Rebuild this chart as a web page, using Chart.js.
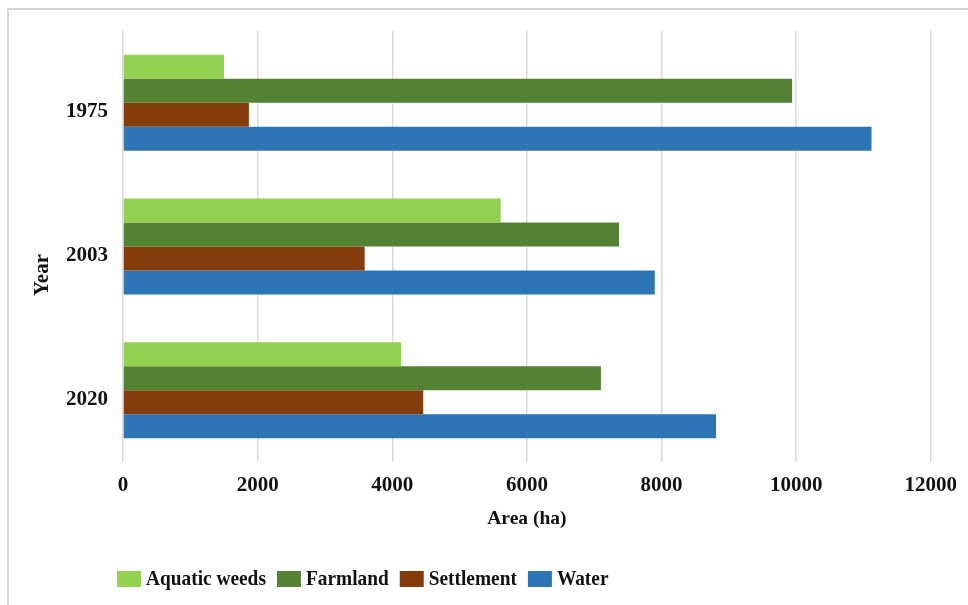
<!DOCTYPE html>
<html>
<head>
<meta charset="utf-8">
<title>Land cover area by year</title>
<script src="https://cdn.jsdelivr.net/npm/chart.js@4.4.1/dist/chart.umd.min.js"></script>
<style>
  html, body { margin: 0; padding: 0; background: #ffffff; }
  #wrap { width: 968px; height: 605px; position: relative; }
</style>
</head>
<body>
<div id="wrap"><canvas id="c" width="968" height="605"></canvas></div>
<script>
// Land cover area (ha) per survey year
const years = ['1975', '2003', '2020'];
const seriesNames = ['Aquatic weeds', 'Farmland', 'Settlement', 'Water'];
const aquaticWeeds = [1500, 5610, 4130];
const farmland = [9940, 7370, 7100];
const settlement = [1870, 3590, 4460];
const water = [11120, 7900, 8810];
const areaTicks = [0, 2000, 4000, 6000, 8000, 10000, 12000];

const seriesColors = ['#92D050', '#548235', '#843C0C', '#2E75B6'];
const serif = '"Liberation Serif", "Times New Roman", serif';
const textColor = '#111111';

const seriesValues = [aquaticWeeds, farmland, settlement, water];

// Light frame around the whole chart
const framePlugin = {
  id: 'frame',
  beforeDraw(chart) {
    const ctx = chart.ctx;
    ctx.save();
    ctx.fillStyle = '#ffffff';
    ctx.fillRect(0, 0, chart.width, chart.height);
    ctx.strokeStyle = '#d6d6d6';
    ctx.lineWidth = 2;
    ctx.strokeRect(8, 9, chart.width + 20, chart.height + 20);
    ctx.restore();
  }
};

// Vertical axis title
const yearTitlePlugin = {
  id: 'yearTitle',
  afterDraw(chart) {
    const ctx = chart.ctx;
    ctx.save();
    ctx.translate(43, 275);
    ctx.rotate(-Math.PI / 2);
    ctx.font = 'bold 21px ' + serif;
    ctx.fillStyle = textColor;
    ctx.textAlign = 'center';
    ctx.textBaseline = 'middle';
    ctx.fillText('Year', 0, 0);
    ctx.restore();
  }
};

// Legend row under the axis title
const legendRowPlugin = {
  id: 'legendRow',
  afterDraw(chart) {
    const ctx = chart.ctx;
    const boxW = 24, boxH = 16, gap = 5, itemGap = 11, squeeze = 0.88;
    let x = 117;
    const yMid = 579;
    ctx.save();
    ctx.font = 'bold 22px ' + serif;
    ctx.textBaseline = 'middle';
    ctx.textAlign = 'left';
    chart.data.datasets.forEach(ds => {
      ctx.fillStyle = ds.backgroundColor;
      ctx.fillRect(x, yMid - boxH / 2, boxW, boxH);
      const tx = x + boxW + gap;
      const w = ctx.measureText(ds.label).width * squeeze;
      ctx.save();
      ctx.translate(tx, yMid);
      ctx.scale(squeeze, 1);
      ctx.fillStyle = textColor;
      ctx.fillText(ds.label, 0, 0);
      ctx.restore();
      x = tx + w + itemGap;
    });
    ctx.restore();
  }
};

const datasets = seriesNames.map((name, i) => ({
  label: name,
  data: seriesValues[i],
  backgroundColor: seriesColors[i],
  borderWidth: 0,
  barPercentage: 1.0,
  categoryPercentage: 0.668
}));

new Chart(document.getElementById('c'), {
  type: 'bar',
  data: { labels: years, datasets },
  plugins: [framePlugin, yearTitlePlugin, legendRowPlugin],
  options: {
    indexAxis: 'y',
    responsive: false,
    animation: false,
    devicePixelRatio: 1,
    layout: { padding: { left: 0, top: 31, right: 37, bottom: 55 } },
    plugins: {
      legend: { display: false },
      tooltip: { enabled: false }
    },
    scales: {
      x: {
        type: 'linear',
        min: 0,
        max: 12000,
        afterBuildTicks(scale) {
          scale.ticks = areaTicks.map(v => ({ value: v }));
        },
        afterFit(scale) { scale.height = 88; },
        grid: { color: '#d9d9d9', lineWidth: 1.5, drawTicks: false },
        border: { display: false },
        ticks: {
          padding: 11,
          color: textColor,
          font: { family: serif, size: 21, weight: 'bold' },
          callback: v => String(v)
        },
        title: {
          display: true,
          text: 'Area (ha)',
          color: textColor,
          font: { family: serif, size: 19.5, weight: 'bold' },
          padding: { top: 0, bottom: 19 }
        }
      },
      y: {
        type: 'category',
        afterFit(scale) { scale.width = 123; },
        grid: { display: false, drawTicks: false },
        border: { display: false },
        ticks: {
          padding: 15,
          labelOffset: 9,
          color: textColor,
          font: { family: serif, size: 21, weight: 'bold' }
        }
      }
    }
  }
});
</script>
</body>
</html>
